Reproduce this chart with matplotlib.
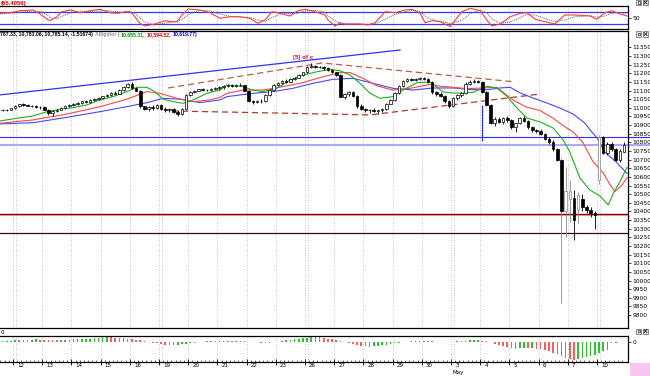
import numpy as np
import matplotlib
matplotlib.use("Agg")
import matplotlib.pyplot as plt
from matplotlib.patches import Rectangle
from matplotlib.lines import Line2D
from matplotlib.transforms import blended_transform_factory

# hourly DJIA bars: last 3 of 9 Apr, then 12 Apr .. 10 May 2010 (7 per day)
bar_idx = np.arange(-3, 147)
opens = [10985, 10990, 10987,
         10997, 11010, 11020, 11015, 11012, 11010, 11004,
         11005, 10990, 10968, 10980, 10990, 11000, 11008,
         11019, 11025, 11030, 11038, 11035, 11046, 11050,
         11058, 11066, 11072, 11085, 11082, 11105, 11120,
         11140, 11115, 11100, 11008, 10995, 11002, 10998,
         11018, 10995, 10985, 10995, 10978, 10965, 10995,
         11075, 11090, 11100, 11108, 11104, 11106, 11110,
         11115, 11120, 11128, 11132, 11125, 11135, 11130,
         11100, 11040, 11035, 11040, 11038, 11075, 11105,
         11134, 11145, 11155, 11150, 11165, 11175, 11190,
         11205, 11235, 11245, 11238, 11235, 11228, 11220,
         11205, 11190, 11065, 11080, 11090, 11070, 11010,
         10992, 10985, 10990, 10980, 10985, 10995, 11025,
         11045, 11085, 11125, 11155, 11165, 11162, 11168,
         11170, 11165, 11150, 11090, 11080, 11070, 11040,
         11008, 11055, 11075, 11085, 11140, 11150, 11155,
         11152, 11092, 11015, 10915, 10935, 10920, 10940,
         10930, 10890, 10910, 10940, 10925, 10890, 10870,
         10868, 10850, 10820, 10800, 10760, 10700, 10400,
         10470, 10480, 10410, 10470, 10425, 10410, 10390,
         10580, 10830, 10740, 10790, 10760, 10700, 10745]
highs = [10992, 10996, 11000,
         11015, 11025, 11030, 11020, 11018, 11014, 11010,
         11008, 10995, 10985, 10995, 11005, 11012, 11022,
         11030, 11035, 11042, 11045, 11050, 11055, 11062,
         11070, 11078, 11090, 11095, 11110, 11125, 11145,
         11148, 11120, 11102, 11012, 11010, 11015, 11025,
         11025, 11005, 11000, 11000, 10985, 11000, 11080,
         11095, 11105, 11112, 11115, 11112, 11115, 11120,
         11125, 11135, 11140, 11138, 11140, 11142, 11135,
         11105, 11048, 11045, 11050, 11080, 11110, 11140,
         11150, 11160, 11165, 11170, 11180, 11195, 11210,
         11240, 11258, 11250, 11245, 11240, 11235, 11225,
         11210, 11195, 11085, 11100, 11098, 11075, 11020,
         11000, 10995, 11000, 10990, 11000, 11030, 11050,
         11090, 11130, 11160, 11170, 11175, 11172, 11180,
         11180, 11172, 11155, 11100, 11090, 11075, 11045,
         11060, 11080, 11090, 11150, 11160, 11165, 11162,
         11155, 11100, 11020, 10945, 10945, 10948, 10950,
         10935, 10915, 10945, 10950, 10930, 10895, 10880,
         10878, 10855, 10830, 10815, 10770, 10710, 10660,
         10580, 10525, 10515, 10500, 10440, 10425, 10400,
         10840, 10835, 10800, 10805, 10765, 10760, 10800]
lows = [10980, 10983, 10985,
        10993, 11005, 11012, 11008, 11005, 11000, 10995,
        10985, 10960, 10955, 10975, 10985, 10995, 11003,
        11012, 11018, 11025, 11030, 11030, 11040, 11045,
        11052, 11060, 11068, 11078, 11080, 11100, 11115,
        11110, 11095, 11000, 10985, 10980, 10990, 10995,
        10990, 10975, 10978, 10970, 10955, 10960, 10990,
        11070, 11085, 11095, 11100, 11098, 11100, 11105,
        11105, 11112, 11120, 11118, 11120, 11125, 11095,
        11035, 11025, 11028, 11030, 11035, 11070, 11100,
        11128, 11138, 11145, 11148, 11160, 11170, 11185,
        11200, 11228, 11232, 11228, 11222, 11215, 11200,
        11185, 11060, 11050, 11070, 11060, 11000, 10985,
        10975, 10970, 10975, 10965, 10978, 10990, 11020,
        11040, 11080, 11120, 11150, 11155, 11155, 11160,
        11160, 11145, 11080, 11070, 11060, 11030, 11000,
        11005, 11045, 11065, 11080, 11135, 11145, 11145,
        11085, 11010, 10905, 10895, 10910, 10905, 10920,
        10880, 10860, 10905, 10920, 10880, 10860, 10855,
        10845, 10815, 10790, 10750, 10690, 9870, 10250,
        10340, 10235, 10335, 10400, 10390, 10370, 10300,
        10560, 10730, 10725, 10750, 10690, 10685, 10745]
closes = [10990, 10987, 10997,
          11010, 11020, 11015, 11012, 11010, 11004, 11005,
          10990, 10968, 10980, 10990, 11000, 11008, 11019,
          11025, 11030, 11038, 11035, 11046, 11050, 11058,
          11066, 11072, 11085, 11082, 11105, 11120, 11140,
          11115, 11100, 11008, 10995, 11002, 10998, 11018,
          10995, 10985, 10995, 10978, 10965, 10995, 11075,
          11090, 11100, 11108, 11104, 11106, 11110, 11115,
          11120, 11128, 11132, 11125, 11135, 11130, 11100,
          11040, 11035, 11040, 11038, 11075, 11105, 11134,
          11145, 11155, 11150, 11165, 11175, 11190, 11205,
          11235, 11245, 11238, 11235, 11228, 11220, 11205,
          11190, 11065, 11080, 11090, 11070, 11010, 10992,
          10985, 10990, 10980, 10985, 10995, 11025, 11045,
          11085, 11125, 11155, 11165, 11162, 11168, 11170,
          11165, 11150, 11090, 11080, 11070, 11040, 11008,
          11055, 11075, 11085, 11140, 11150, 11155, 11152,
          11092, 11015, 10915, 10935, 10920, 10940, 10930,
          10890, 10910, 10940, 10925, 10890, 10870, 10868,
          10850, 10820, 10800, 10760, 10700, 10400, 10520,
          10520, 10350, 10495, 10425, 10410, 10390, 10380,
          10830, 10740, 10790, 10760, 10700, 10750, 10785]
gray_bars = [131, 132, 133, 135, 140]

# odd blue print on the first bar of 4 May
spike_bar, spike_lo, spike_hi = 112, 10808, 11017

# Alligator lines (bar position, price)
lips_pos = [-3.1, 0, 4.8, 8.2, 11.3, 14.4, 17.7, 20.9, 24, 27.3, 29.7, 32.1, 34, 36, 38.4, 40.8, 43.2, 46.5,
            49.6, 51.3, 55.1, 57.5, 59.9, 63.3, 66.4, 69.5, 72.9, 76, 78.4, 80.8, 83.2, 85.6, 88, 91.1, 93.5,
            96.9, 100, 103.1, 105.5, 107.9, 110.3, 113.6, 116, 118.4, 120.8, 123.2, 126.4, 129.5, 131.9,
            133.5, 135.9, 138.3, 140.7, 142.7, 144.1, 145.5, 147.2]
lips_val = [10924, 10936, 10953, 10978, 10992, 11001, 11017, 11046, 11065, 11094, 11119, 11119, 11094, 11050,
            11036, 11026, 11046, 11084, 11103, 11132, 11123, 11103, 11094, 11113, 11161, 11190, 11209, 11223,
            11215, 11190, 11142, 11084, 11055, 11065, 11103, 11146, 11150, 11092, 11086, 11086, 11090, 11125,
            11115, 11067, 11000, 10941, 10918, 10883, 10814, 10744, 10594, 10524, 10490, 10438, 10513, 10571,
            10655]
teeth_pos = [-3.1, 4.8, 12.9, 20.9, 27.3, 32.1, 35.2, 39.3, 43.2, 47.2, 49.6, 51.3, 55.1, 59.9, 64.7, 69.5,
             74.3, 78.4, 80.8, 83.9, 87.3, 91.1, 95.2, 100, 102.4, 105.5, 108.8, 112.7, 116, 119.9, 123, 126.3,
             129.5, 132, 134.3, 136.7, 139, 141.5, 143, 144.3, 146, 147.2]
teeth_val = [10911, 10930, 10964, 11007, 11050, 11094, 11084, 11055, 11036, 11046, 11061, 11084, 11103, 11103,
             11123, 11146, 11180, 11204, 11204, 11171, 11127, 11103, 11113, 11136, 11125, 11119, 11111, 11115,
             11119, 11045, 11005, 10985, 10940, 10895, 10860, 10797, 10690, 10623, 10560, 10515, 10553, 10595]
jaw_pos = [-3.1, 4.8, 12.9, 20.9, 27.3, 32.1, 36, 40, 44.8, 49.6, 51.3, 57.5, 62.3, 67.1, 71.9, 76.7, 81.5,
           86.3, 91.1, 95.9, 100.7, 105.5, 110.3, 113.6, 116.8, 119.2, 121.6, 124.7, 128, 131.1, 134.3, 137.1,
           138.3, 140, 141.9, 144.6, 147.2]
jaw_val = [10907, 10914, 10945, 10978, 11007, 11030, 11055, 11050, 11030, 11046, 11065, 11084, 11094, 11113,
           11142, 11165, 11171, 11142, 11113, 11103, 11115, 11115, 11105, 11105, 11115, 11119, 11086, 11057,
           11028, 10999, 10964, 10912, 10874, 10826, 10744, 10687, 10620]

# drawn lines: (bar, price) nodes
channel_top = ([-3.1, 92.8], [11075, 11335])
wedge_top = ([37.2, 74.1, 120.4], [11115, 11260, 11150])
wedge_bot = ([38.1, 85.6, 126.3], [10982, 10959, 11080])
levels_blue = [10831, 10785]
level_red = 10385
level_dark = 10275

# stochastic %K / %D
stoch_pos = [-3.1, 0, 1.7, 4.8, 6.5, 8.2, 8.9, 10.5, 11.7, 13.7, 16.1, 18.5, 20.9, 23.3, 25.2, 26.9, 28.1,
             29.2, 30.4, 31.6, 34, 36.4, 38.1, 39.3, 40.5, 42, 44.8, 47.2, 49.6, 52, 54.4, 56.8, 58.7, 60.4,
             62.1, 64, 66.4, 68.3, 70, 72.4, 74.8, 75.5, 77.2, 78.4, 79.6, 83.2, 85.1, 86.8, 89.2, 91.6, 94,
             95.7, 97.6, 98.8, 100.5, 102.4, 104.8, 107.6, 109.6, 112, 113.6, 114.8, 116.8, 119.2, 121.6,
             123.2, 125.2, 127.5, 129.9, 132.3, 134.7, 138.3, 140, 141.9, 143.6, 145.5, 147.2]
stoch_k = [73.5, 78.5, 86.5, 90, 70, 43.5, 36.5, 56.5, 81.5, 90, 76.5, 86.5, 93.5, 76.5, 73.5, 81.5, 81.5,
           56.5, 23.5, 10, 20, 36.5, 31.5, 31.5, 65, 95, 90, 76.5, 48.5, 56.5, 56.5, 48.5, 23.5, 40, 81.5,
           73.5, 60, 86.5, 93.5, 81.5, 65, 40, 10, 26.5, 20, 20, 15, 26.5, 81.5, 76.5, 90, 93.5, 73.5, 26.5,
           36.5, 31.5, 6.5, 81.5, 98.5, 86.5, 40, 10, 20, 56.5, 73.5, 76.5, 43.5, 31.5, 20, 65, 65, 60, 43.5,
           76.5, 86.5, 70, 60]
stoch_d = [70, 74, 79, 85, 82, 66, 52, 46, 58, 76, 84, 82, 86, 86, 80, 77, 79, 72, 52, 30, 16, 24, 30, 32, 42,
           68, 88, 86, 70, 58, 54, 53, 40, 34, 52, 70, 72, 74, 86, 88, 78, 62, 36, 24, 20, 20, 18, 20, 44, 68,
           82, 88, 84, 60, 42, 34, 22, 38, 72, 90, 76, 46, 24, 30, 52, 68, 64, 48, 32, 40, 56, 62, 54, 60, 74,
           78, 70]

# oscillator histogram, one value per bar
ao = [10, 12, 14,
      16, 18, 20, 22, 24, 26, 25,
      23, 21, 20, 19, 20, 22, 24,
      26, 28, 30, 32, 35, 38, 42,
      46, 50, 48, 45, 42, 38, 34,
      30, 24, 16, 8, 0, -8, -14,
      -20, -26, -30, -28, -25, -22, -18,
      -12, -6, -2, 4, 8, 10, 12,
      14, 15, 13, 12, 10, 8, 6,
      3, 0, -4, -6, -8, -5, -2,
      4, 10, 16, 22, 28, 34, 40,
      44, 48, 50, 46, 40, 34, 26,
      18, 10, 2, -8, -18, -28, -36,
      -42, -45, -44, -40, -34, -26, -18,
      -12, -6, -2, 4, 8, 10, 12,
      14, 12, 8, 5, 3, 1, -1,
      2, 6, 10, 14, 16, 18, 19,
      14, 6, -4, -16, -28, -40, -52,
      -60, -65, -62, -60, -64, -62, -66,
      -72, -80, -90, -105, -120, -140, -160,
      -168, -175, -168, -158, -148, -138, -125,
      -105, -92, -75, -10, -6, 4, 2]

day_labels = ["12", "13", "14", "15", "16", "19", "20", "21", "22", "23", "26",
              "27", "28", "29", "30", "3", "4", "5", "6", "7", "10"]
mondays = [0, 5, 10, 15, 20]
month_label, month_day = "May", 15

header_parts = [("787.33, 10,783.06, 10,785.14, -1.51674)", "black", 0),
                ("Alligator (", "#909090", 95),
                ("10,655.31,", "#009a00", 120),
                ("10,594.52,", "#ee0000", 147),
                ("10,619.77)", "#0000ee", 172.5)]

# ---------------------------------------------------------------- layout
W, H = 650, 376
fig = plt.figure(figsize=(W / 100, H / 100), dpi=100)
plt.rcParams["font.family"] = ["DejaVu Sans"]
XL = (-13 / 4.171, 615 / 4.171)


def px_axes(top, bottom, right=628):
    a = fig.add_axes([0, 1 - bottom / H, right / W, (bottom - top) / H])
    a.set_xlim(*XL)
    a.spines["left"].set_visible(False)
    for s in ("top", "bottom", "right"):
        a.spines[s].set_linewidth(0.9)
    a.set_xticks([])
    a.yaxis.tick_right()
    a.tick_params(axis="y", labelsize=4.3, length=2, width=0.5, pad=1)
    for k in range(len(day_labels)):
        a.axvline(7 * k, color="#b4b4b4", lw=0.6, ls=(0, (1, 2)), zorder=0)
        if k in mondays:
            a.axvline(7 * k + 0.75, color="#b4b4b4", lw=0.6, ls=(0, (1, 2)), zorder=0)
    return a


ax_st = px_axes(6, 29)
ax = px_axes(31, 328)
ax_ao = px_axes(336, 362)

# --------------------------------------------------------------- stochastic
ax_st.set_ylim(-5, 110)
for lv in (80, 20):
    ax_st.axhline(lv, color="#3838ff", lw=0.9, zorder=1)
ax_st.plot(stoch_pos, stoch_d, color="#606060", lw=0.7, ls=(0, (1, 1)), zorder=2)
ax_st.plot(stoch_pos, stoch_k, color="#ff4040", lw=0.8, zorder=3)
ax_st.set_yticks([50])
ax_st.set_yticklabels(["50"])

# --------------------------------------------------------------- price panel
ax.set_ylim(9725, 11445)
ax.set_yticks(np.arange(9800, 11351, 50))
ax.set_yticks(np.arange(9800, 11351, 25), minor=True)
ax.tick_params(axis="y", which="minor", length=1, width=0.4)

x_ext = (650 - 13) / 4.171
ax.plot([XL[0], x_ext], [levels_blue[0]] * 2, color="#3030ff", lw=0.8, clip_on=False, zorder=2)
ax.plot([XL[0], x_ext], [levels_blue[1]] * 2, color="#a0a0ff", lw=1.3, clip_on=False, zorder=2)
ax.axhline(level_red - 6, color="#f4b8b8", lw=0.9, zorder=1)
ax.axhline(level_red, color="#8b0000", lw=1.0, zorder=2)
ax.axhline(level_dark, color="#3a0000", lw=0.9, zorder=2)

ax.plot(*channel_top, color="#3030ff", lw=0.9, zorder=2)
ax.plot(*wedge_top, color="#b86048", lw=0.9, ls=(0, (5, 3)), zorder=2)
ax.plot(*wedge_bot, color="#b03a30", lw=0.9, ls=(0, (5, 3)), zorder=2)

ax.plot(jaw_pos, jaw_val, color="#4848ff", lw=0.8, zorder=2)
ax.plot(teeth_pos, teeth_val, color="#ff4848", lw=0.8, zorder=2)
ax.plot(lips_pos, lips_val, color="#20b020", lw=0.8, zorder=2)

o = np.array(opens, float)
h = np.array(highs, float)
l = np.array(lows, float)
c = np.array(closes, float)
xs = bar_idx + 0.5
up = c >= o
grey = np.isin(bar_idx, gray_bars)
wick_col = np.where(grey, "#8a8a8a", "black")
edge_col = np.where(grey & up, "#8a8a8a", "black")
ax.vlines(xs, l, h, colors=wick_col, lw=0.6, zorder=3)
ax.bar(xs, np.maximum(np.abs(c - o), 2.0), bottom=np.minimum(o, c), width=0.62,
       color=np.where(up, "white", "black"), edgecolor=edge_col, lw=0.5, zorder=4)
ax.vlines(spike_bar + 0.5, spike_lo, spike_hi, colors="#3030ff", lw=0.9, zorder=5)

ax.text(67.1, 11290, "[5] of c", color="#e01010", fontsize=4.4, fontweight="bold",
        family=["Liberation Sans", "DejaVu Sans"], ha="left", va="center", zorder=6)

# --------------------------------------------------------------- histogram
ax_ao.set_ylim(-200, 60)
ao_arr = np.array(ao, float)
ao_col = ["#30c030" if i == 0 or ao_arr[i] >= ao_arr[i - 1] else "#ff5a5a" for i in range(len(ao_arr))]
ax_ao.bar(xs, ao_arr, width=0.38, color=ao_col, lw=0, zorder=2)
ax_ao.set_yticks([0])
ax_ao.set_yticklabels(["0"])
ax_ao.set_xticks(np.arange(0, 147, 7))
ax_ao.set_xticks(np.arange(-3, 147), minor=True)
ax_ao.set_xticklabels([])
ax_ao.tick_params(axis="x", which="major", direction="inout", length=5, width=0.6)
ax_ao.tick_params(axis="x", which="minor", direction="in", length=1.5, width=0.4)
tr = blended_transform_factory(ax_ao.transData, ax_ao.transAxes)
for k, lab in enumerate(day_labels):
    ax_ao.text(7 * k + 1.0, -0.14, lab, transform=tr, fontsize=4.0, ha="left", va="center")
ax_ao.text(7 * month_day + 0.3, -0.4, month_label, transform=tr, fontsize=4.0, ha="left", va="center")

# --------------------------------------------------------------- header texts
def ftext(x, y, s, **kw):
    return fig.text(x / W, 1 - y / H, s, va="center", ha="left", **kw)


small = ["Liberation Sans", "DejaVu Sans"]
ftext(1, 3, "(65.4056)", color="#dd0000", fontsize=4.3, fontweight="bold", family=small)
renderer = fig.canvas.get_renderer()
x_next = 0
for txt, col, x_ref in header_parts:
    t = ftext(max(x_ref, x_next), 34.5, txt, color=col, fontsize=3.7, fontweight="bold", family=small)
    x_next = t.get_window_extent(renderer).x1 + 1.5
ftext(0.5, 332, "0", color="black", fontsize=4.0)


def icons(ytop):
    for x0 in (636, 643):
        fig.add_artist(Rectangle((x0 / W, 1 - (ytop + 5) / H), 5 / W, 5 / H, transform=fig.transFigure,
                                 fc="#e4e4e4", ec="#606060", lw=0.5))
    fig.add_artist(Rectangle((637.5 / W, 1 - (ytop + 3.5) / H), 2 / W, 2 / H, transform=fig.transFigure,
                             fill=False, ec="black", lw=0.4))
    fig.add_artist(Line2D([644 / W, 647 / W], [1 - (ytop + 1) / H, 1 - (ytop + 4) / H],
                          transform=fig.transFigure, color="black", lw=0.5))
    fig.add_artist(Line2D([644 / W, 647 / W], [1 - (ytop + 4) / H, 1 - (ytop + 1) / H],
                          transform=fig.transFigure, color="black", lw=0.5))


icons(0)
icons(31.5)
icons(328.5)
fig.add_artist(Rectangle((630 / W, 0), 20 / W, 13 / H, transform=fig.transFigure,
                         fc="#f6c8f0", ec="none"))

fig.savefig("out.png", dpi=100)
